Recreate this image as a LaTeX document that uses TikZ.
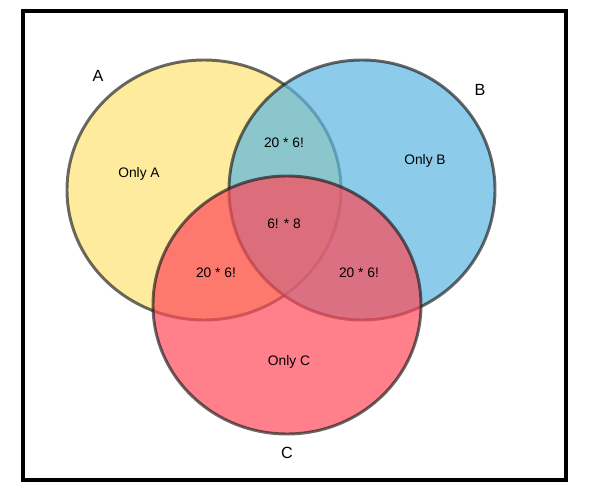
\documentclass[tikz,border=0pt]{standalone}
\usepackage{fontspec}
\setmainfont{Liberation Sans}
\definecolor{setyellow}{HTML}{FEE374}
\definecolor{setblue}{HTML}{5BB6E1}
\definecolor{setred}{HTML}{FF4A58}
\definecolor{rimgray}{HTML}{1A1A1A}

\begin{document}
\begin{tikzpicture}[x=0.025cm, y=0.025cm,
  setfill/.style={fill opacity=0.7, draw opacity=0.65, draw=rimgray, line width=2.1pt},
  region/.style={font=\fontsize{9.8}{12}\selectfont, text=black},
  setname/.style={font=\fontsize{11.5}{14}\selectfont, text=black}]

% Canvas and frame
\useasboundingbox (0,0) rectangle (599,489);
\draw[black, line width=2.4pt] (23,9) rectangle (566,478);

% Sets A, B, C (pixel grid, y up)
\draw[setfill, fill=setyellow] (204,299) ellipse [x radius=137, y radius=130];
\draw[setfill, fill=setblue] (362,299) ellipse [x radius=133, y radius=130];
\draw[setfill, fill=setred] (287,184) ellipse [x radius=134, y radius=129];

% Set names
\node[setname] (nameA) at (98,413) {A};
\node[setname] (nameB) at (480,399) {B};
\node[setname] (nameC) at (287,36) {C};

% Region counts
\node[region] (onlyA) at (139,315) {Only A};
\node[region] (onlyB) at (425,328) {Only B};
\node[region] (onlyC) at (289,127) {Only C};
\node[region] (ab) at (284,346) {20 * 6!};
\node[region] (ac) at (216,216) {20 * 6!};
\node[region] (bc) at (359,216) {20 * 6!};
\node[region] (abc) at (284,265) {6! * 8};

\end{tikzpicture}
\end{document}
